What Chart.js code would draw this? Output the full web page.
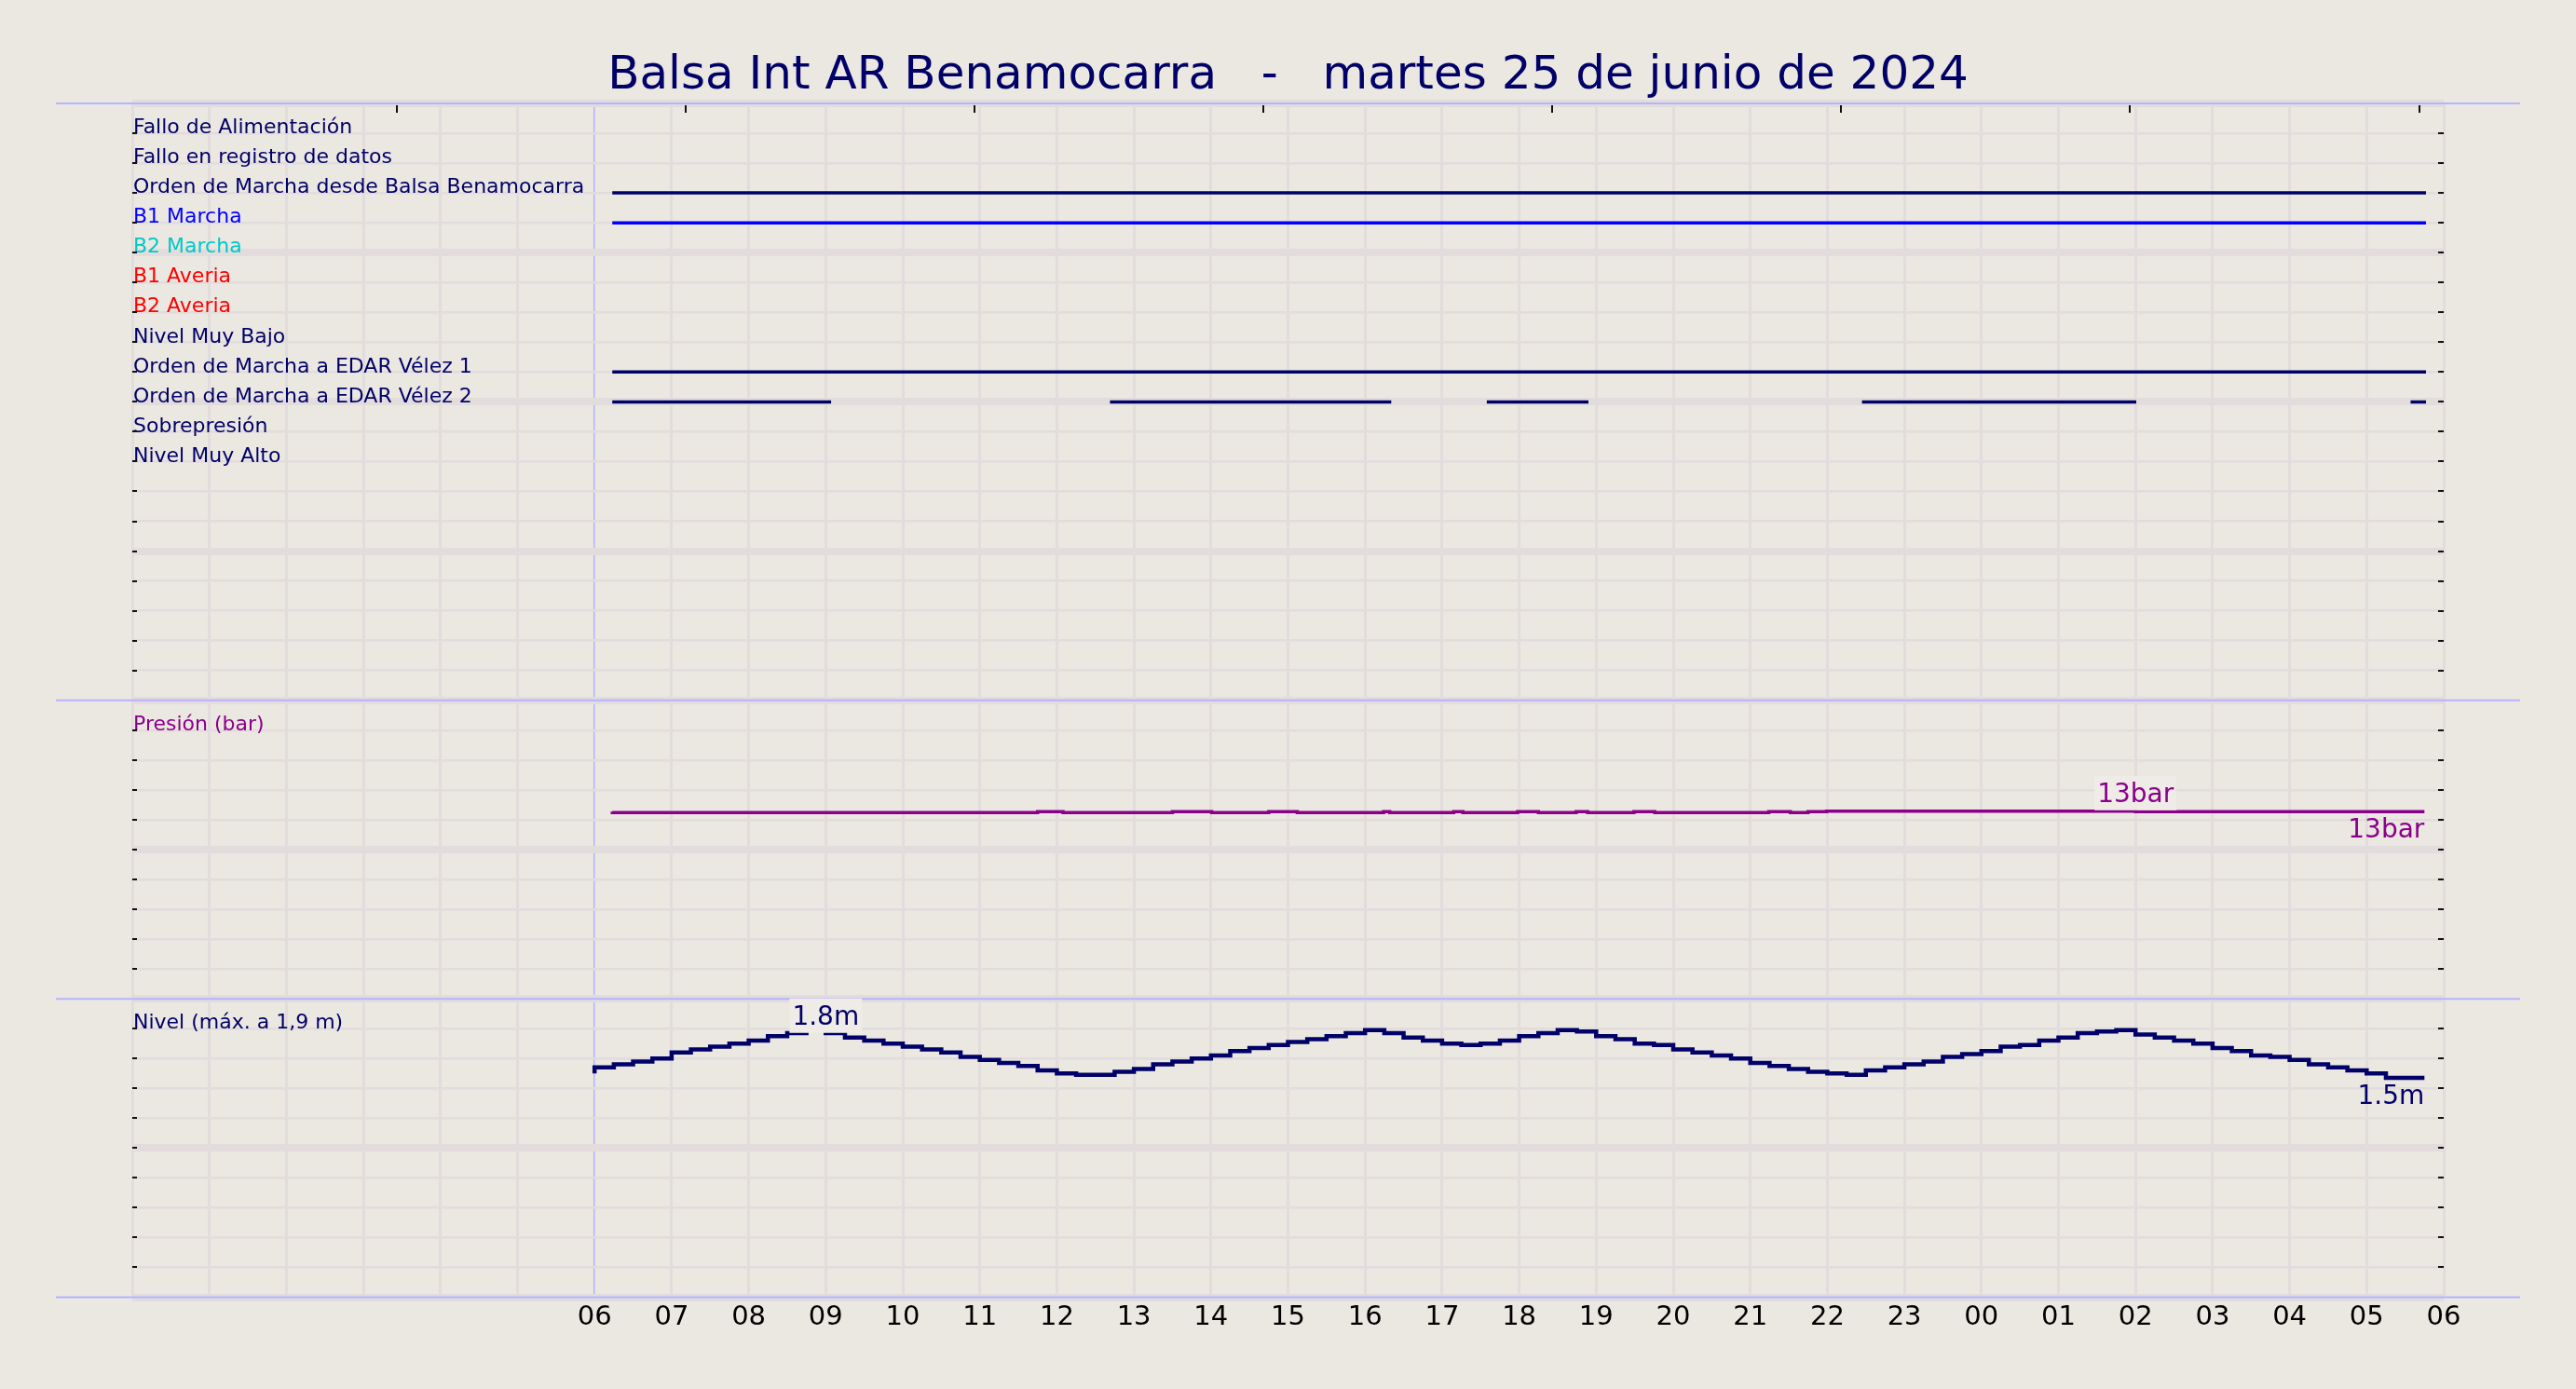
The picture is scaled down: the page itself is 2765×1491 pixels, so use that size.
<!DOCTYPE html>
<html>
<head>
<meta charset="utf-8">
<script src="https://cdn.jsdelivr.net/npm/chart.js@4.4.1/dist/chart.umd.min.js"></script>
<style>
  html, body { margin: 0; padding: 0; background: #ebe7e1; }
  canvas { display: block; }
</style>
</head>
<body>
<canvas id="balsa" width="2765" height="1491" style="width:2765px;height:1491px"></canvas>
<script>
const title = 'Balsa Int AR Benamocarra   -   martes 25 de junio de 2024';

// x axis: hours from 00:00 on the 25th to 06:00 on the 26th
const hourLabels = ['', '', '', '', '', '', '06', '07', '08', '09', '10', '11', '12', '13', '14', '15',
    '16', '17', '18', '19', '20', '21', '22', '23', '00', '01', '02', '03', '04', '05', '06'];

// small marks on the top edge of the first panel
const topTickHours = [3.43, 7.18, 10.93, 14.68, 18.43, 22.18, 25.93, 29.68];

// digital signals, one row each (top to bottom)
const signalNames = [
    'Fallo de Alimentación',
    'Fallo en registro de datos',
    'Orden de Marcha desde Balsa Benamocarra',
    'B1 Marcha',
    'B2 Marcha',
    'B1 Averia',
    'B2 Averia',
    'Nivel Muy Bajo',
    'Orden de Marcha a EDAR Vélez 1',
    'Orden de Marcha a EDAR Vélez 2',
    'Sobrepresión',
    'Nivel Muy Alto',
];
const signalColors = ['#000068', '#000068', '#000068', '#0000ff', '#00c8c8', '#ff0000',
    '#ff0000', '#000068', '#000068', '#000068', '#000068', '#000068'];
// [start, end] in hours for every period the signal is on
const signalOn = [
    [],
    [],
    [[6.23, 29.77]],
    [[6.23, 29.77]],
    [],
    [],
    [],
    [],
    [[6.23, 29.77]],
    [[6.23, 9.07], [12.69, 16.34], [17.58, 18.90], [22.45, 26.01], [29.57, 29.77]],
    [],
    [],
];

// pressure (bar), change points
const pressureTimes = [6.23, 11.75, 12.08, 13.50, 14.01, 14.75, 15.12, 16.24, 16.32, 17.15, 17.27,
    17.98, 18.25, 18.74, 18.89, 19.49, 19.76, 21.24, 21.52, 21.75, 21.99, 26.00, 26.25, 29.75];
const pressureValues = [12.54, 12.48, 12.54, 12.48, 12.54, 12.48, 12.54, 12.48, 12.54, 12.48, 12.54,
    12.48, 12.54, 12.48, 12.54, 12.48, 12.54, 12.48, 12.54, 12.48, 12.54, 12.57, 12.54, 12.54];

// level (m), one reading every 15 minutes from 06:00
const levelStart = 6;
const levelStep = 0.25;
const levelValues = [
    1.50, 1.54, 1.56, 1.58, 1.60, 1.64, 1.66, 1.68,
    1.70, 1.72, 1.75, 1.77, 1.79, 1.77, 1.74, 1.72,
    1.70, 1.68, 1.66, 1.64, 1.61, 1.59, 1.57, 1.55,
    1.52, 1.50, 1.49, 1.49, 1.51, 1.53, 1.56, 1.58,
    1.60, 1.62, 1.65, 1.67, 1.69, 1.71, 1.73, 1.75,
    1.77, 1.79, 1.77, 1.74, 1.72, 1.70, 1.69, 1.70,
    1.72, 1.75, 1.77, 1.79, 1.78, 1.75, 1.73, 1.70,
    1.69, 1.66, 1.64, 1.62, 1.60, 1.57, 1.55, 1.53,
    1.51, 1.50, 1.49, 1.52, 1.54, 1.56, 1.58, 1.61,
    1.63, 1.65, 1.68, 1.69, 1.72, 1.74, 1.77, 1.78,
    1.79, 1.76, 1.74, 1.72, 1.70, 1.67, 1.65, 1.62,
    1.61, 1.59, 1.56, 1.54, 1.52, 1.50, 1.47, 1.47,
];

const NAVY = '#000068';
const PURPLE = '#8b008b';
const FRAME = '#b4b4ff';
const GRID = '#e2dcdc';
const FONT = 'DejaVu Sans';

const datasets = [];
signalOn.forEach((spans, i) => {
    if (!spans.length) return;
    const pts = [];
    spans.forEach(([a, b]) => {
        pts.push({ x: a, y: i + 1 }, { x: b, y: i + 1 }, { x: b, y: null });
    });
    datasets.push({
        data: pts, yAxisID: 'yDig', borderColor: signalColors[i],
        borderWidth: 3.5, pointRadius: 0, spanGaps: false,
    });
});
datasets.push({
    data: pressureTimes.map((t, i) => ({ x: t, y: pressureValues[i] })),
    yAxisID: 'yPres', borderColor: PURPLE, borderWidth: 3.5, pointRadius: 0, stepped: 'after',
});
datasets.push({
    data: levelValues.map((v, i) => ({ x: levelStart + i * levelStep, y: v })),
    yAxisID: 'yNivel', borderColor: NAVY, borderWidth: 4.5, pointRadius: 0, stepped: 'after',
});

// one stacked y axis per panel; its mirrored tick labels carry the row names
function panelAxis(min, max, step, weight, extra, label, color) {
    return Object.assign({
        type: 'linear', position: 'left', stack: 'panels', stackWeight: weight,
        min: min, max: max,
        afterFit: s => { s.width = 0; },
        border: { display: false },
        grid: { color: GRID, lineWidth: c => (c.index % 5 === 0 ? 8 : 2.5), drawTicks: false },
        ticks: {
            stepSize: step, autoSkip: false, mirror: true, padding: 1, labelOffset: -5.5,
            font: { family: FONT, size: 22 },
            callback: label,
            color: color,
        },
    }, extra);
}

function valueLabel(ctx, text, x, y, align, color, box) {
    ctx.save();
    ctx.font = '28px "' + FONT + '"';
    ctx.textAlign = align;
    ctx.textBaseline = 'alphabetic';
    if (box) {
        const w = ctx.measureText(text).width;
        ctx.fillStyle = '#efebe6';
        ctx.fillRect(x - w / 2 - 3, y - 28, w + 6, 37);
    }
    ctx.fillStyle = color;
    ctx.fillText(text, x, y);
    ctx.restore();
}

const overlay = {
    id: 'overlay',
    beforeDatasetsDraw(chart) {
        const ctx = chart.ctx;
        const area = chart.chartArea;
        const panels = ['yDig', 'yPres', 'yNivel'].map(id => chart.scales[id]);
        ctx.save();
        // tick marks pointing inwards on both sides
        ctx.strokeStyle = '#111';
        ctx.lineWidth = 2;
        panels.forEach(s => {
            s.ticks.forEach((t, i) => {
                if (i === 0 || i === s.ticks.length - 1) return;
                const y = Math.round(s.getPixelForTick(i));
                ctx.beginPath();
                ctx.moveTo(area.left, y); ctx.lineTo(area.left + 5, y);
                ctx.moveTo(area.right - 6, y); ctx.lineTo(area.right, y);
                ctx.stroke();
            });
        });
        topTickHours.forEach(h => {
            const x = Math.round(chart.scales.x.getPixelForValue(h));
            ctx.beginPath();
            ctx.moveTo(x, area.top + 2); ctx.lineTo(x, area.top + 10);
            ctx.stroke();
        });
        // panel frame lines reaching past the plot
        ctx.strokeStyle = FRAME;
        ctx.lineWidth = 2;
        const ys = [panels[0].top, panels[0].bottom, panels[1].bottom, panels[2].bottom];
        ys.forEach(y => {
            ctx.beginPath();
            ctx.moveTo(area.left - 82, y); ctx.lineTo(area.right + 82, y);
            ctx.stroke();
        });
        ctx.restore();
    },
    afterDatasetsDraw(chart) {
        const ctx = chart.ctx;
        const x = chart.scales.x;
        const yP = chart.scales.yPres;
        const yN = chart.scales.yNivel;

        const pMax = Math.max(...pressureValues);
        const pi = pressureValues.indexOf(pMax);
        valueLabel(ctx, pMax.toFixed(0) + 'bar', x.getPixelForValue(pressureTimes[pi]),
            yP.getPixelForValue(pMax) - 10, 'center', PURPLE, true);
        const pLast = pressureValues[pressureValues.length - 1];
        valueLabel(ctx, pLast.toFixed(0) + 'bar', x.getPixelForValue(pressureTimes[pressureTimes.length - 1]),
            yP.getPixelForValue(pLast) + 28, 'right', PURPLE, false);

        const nMax = Math.max(...levelValues);
        const ni = levelValues.indexOf(nMax);
        valueLabel(ctx, nMax.toFixed(1) + 'm', x.getPixelForValue(levelStart + ni * levelStep),
            yN.getPixelForValue(nMax) - 6, 'center', NAVY, true);
        const nLast = levelValues[levelValues.length - 1];
        valueLabel(ctx, nLast.toFixed(1) + 'm', x.getPixelForValue(levelStart + (levelValues.length - 1) * levelStep),
            yN.getPixelForValue(nLast) + 28, 'right', NAVY, false);
    },
};

const near = (a, b) => Math.abs(a - b) < 1e-6;

new Chart(document.getElementById('balsa'), {
    type: 'line',
    data: { datasets: datasets },
    options: {
        responsive: false,
        devicePixelRatio: 1,
        animation: false,
        layout: { autoPadding: false, padding: { left: 142, right: 142, top: 0, bottom: 0 } },
        plugins: {
            legend: { display: false },
            tooltip: { enabled: false },
            title: {
                display: true, text: title, color: NAVY,
                font: { family: FONT, size: 50, weight: 'normal', lineHeight: 1.1 },
                padding: { top: 55, bottom: 1 },
            },
        },
        scales: {
            x: {
                type: 'linear', position: 'bottom', min: 0, max: 30,
                afterFit: s => { s.height = 98.5; },
                border: { display: false },
                grid: {
                    color: c => (c.index === 6 ? FRAME : GRID),
                    lineWidth: c => (c.index === 6 ? 1.5 : 3),
                    drawTicks: false,
                },
                ticks: {
                    stepSize: 1, autoSkip: false, maxRotation: 0, padding: 5, color: '#000',
                    font: { family: FONT, size: 29 },
                    callback: (v, i) => hourLabels[i],
                },
            },
            yNivel: panelAxis(0, 2, 0.2, 10, {},
                v => (near(v, 1.8) ? 'Nivel (máx. a 1,9 m)' : ''), NAVY),
            yPres: panelAxis(0, 20, 2, 10, {},
                v => (near(v, 18) ? 'Presión (bar)' : ''), PURPLE),
            yDig: panelAxis(0, 20, 1, 20, { reverse: true },
                v => signalNames[v - 1] || '', c => signalColors[c.tick.value - 1] || NAVY),
        },
    },
    plugins: [overlay],
});
</script>
</body>
</html>
